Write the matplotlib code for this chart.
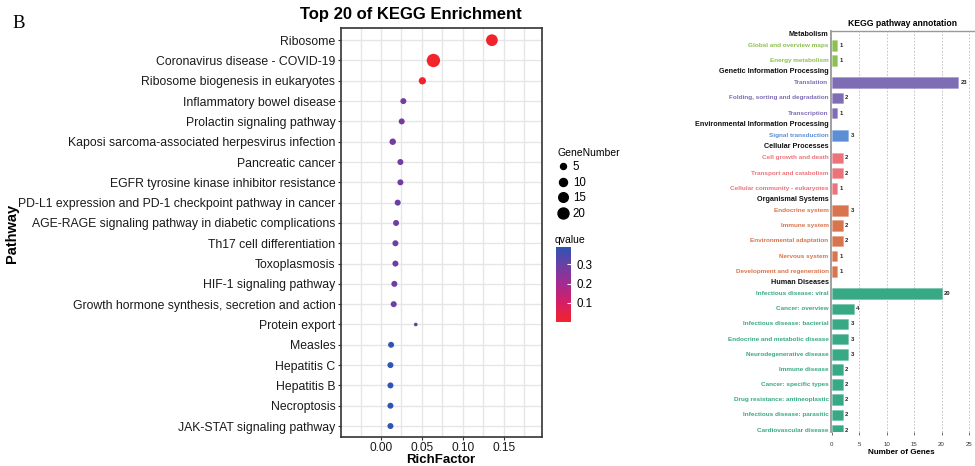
import matplotlib
matplotlib.use('Agg')
import matplotlib.pyplot as plt
import numpy as np
from matplotlib.colors import LinearSegmentedColormap, Normalize, to_rgba
from matplotlib.cm import ScalarMappable
from matplotlib.lines import Line2D

plt.rcParams['font.family'] = ['Liberation Sans', 'DejaVu Sans']

# ---------------- Left panel data ----------------
pathways = [
    "Ribosome",
    "Coronavirus disease - COVID-19",
    "Ribosome biogenesis in eukaryotes",
    "Inflammatory bowel disease",
    "Prolactin signaling pathway",
    "Kaposi sarcoma-associated herpesvirus infection",
    "Pancreatic cancer",
    "EGFR tyrosine kinase inhibitor resistance",
    "PD-L1 expression and PD-1 checkpoint pathway in cancer",
    "AGE-RAGE signaling pathway in diabetic complications",
    "Th17 cell differentiation",
    "Toxoplasmosis",
    "HIF-1 signaling pathway",
    "Growth hormone synthesis, secretion and action",
    "Protein export",
    "Measles",
    "Hepatitis C",
    "Hepatitis B",
    "Necroptosis",
    "JAK-STAT signaling pathway",
]
rich_factor = [0.1357, 0.0641, 0.0506, 0.0273, 0.0253, 0.0143, 0.0237, 0.0237,
               0.0204, 0.0184, 0.0176, 0.0176, 0.0163, 0.0155, 0.0425, 0.0123,
               0.0115, 0.0115, 0.0115, 0.0115]
gene_number = [23, 30, 8, 5, 5, 6, 5, 5, 5, 5, 5, 5, 5, 5, 1, 5, 5, 5, 5, 5]
qvalue = [0.00002, 0.002, 0.01, 0.28, 0.28, 0.28, 0.28, 0.28, 0.29, 0.29, 0.29,
          0.29, 0.29, 0.29, 0.32, 0.385, 0.39, 0.39, 0.39, 0.39]
size_legend = [5, 10, 15, 20]
x_ticks_left = [0.00, 0.05, 0.10, 0.15]
q_ticks = [0.1, 0.2, 0.3]

# ---------------- Right panel data ----------------
annot_groups = ["Metabolism", "Genetic Information Processing",
                "Environmental Information Processing", "Cellular Processes",
                "Organismal Systems", "Human Diseases"]
annot_group_colors = ["#8CC152", "#7E6DB5", "#5B8ED4", "#EC737B", "#D9754E", "#38A985"]
annot_terms = [
    "Global and overview maps", "Energy metabolism",
    "Translation", "Folding, sorting and degradation", "Transcription",
    "Signal transduction",
    "Cell growth and death", "Transport and catabolism", "Cellular community - eukaryotes",
    "Endocrine system", "Immune system", "Environmental adaptation", "Nervous system",
    "Development and regeneration",
    "Infectious disease: viral", "Cancer: overview", "Infectious disease: bacterial",
    "Endocrine and metabolic disease", "Neurodegenerative disease", "Immune disease",
    "Cancer: specific types", "Drug resistance: antineoplastic",
    "Infectious disease: parasitic", "Cardiovascular disease",
]
annot_counts = [1, 1, 23, 2, 1, 3, 2, 2, 1, 3, 2, 2, 1, 1, 20, 4, 3, 3, 3, 2, 2, 2, 2, 2]
annot_group_idx = [0, 0, 1, 1, 1, 2, 3, 3, 3, 4, 4, 4, 4, 4,
                   5, 5, 5, 5, 5, 5, 5, 5, 5, 5]
x_ticks_right = [0, 5, 10, 15, 20, 25]

W, H = 975, 466
fig = plt.figure(figsize=(W / 100, H / 100), dpi=100)


def fx(px):
    return px / W


def fy(py):
    return 1 - py / H


def size_pts2(n):
    d_px = np.sqrt(7.7 + 5.67 * np.asarray(n, dtype=float))
    return (d_px * 0.72) ** 2


cmap = LinearSegmentedColormap.from_list(
    "qv", [(0.0, "#F2242B"), (0.25, "#D61F63"), (0.5, "#A52A8F"),
           (0.75, "#6C3FA3"), (1.0, "#2F54B3")])
norm = Normalize(vmin=min(qvalue), vmax=max(qvalue))

# ---------------- Left panel ----------------
axL = fig.add_axes([fx(341), fy(437), fx(542) - fx(341), fy(28) - fy(437)])
ypos = np.arange(len(pathways))
axL.set_xlim(-0.049, 0.197)
axL.set_ylim(len(pathways) - 1 + 0.54, -0.6)
axL.set_xticks(x_ticks_left)
axL.set_xticks(np.arange(-0.025, 0.2, 0.05), minor=True)
axL.set_yticks(ypos)
axL.set_yticklabels(pathways, fontsize=8.85, color="#1a1a1a")
axL.set_xticklabels([f"{v:.2f}" for v in x_ticks_left], fontsize=8.6, color="#1a1a1a")
axL.grid(True, which="major", color="#E6E6E6", linewidth=1.0)
axL.grid(True, which="minor", axis="x", color="#E6E6E6", linewidth=1.0)
axL.set_axisbelow(True)
axL.tick_params(axis="both", which="major", length=2.5, width=0.8, color="#333333", pad=1.5)
axL.tick_params(axis="x", which="major", pad=0.8)
axL.tick_params(axis="x", which="minor", length=0)
for sp in axL.spines.values():
    sp.set_color("#333333")
    sp.set_linewidth(1.2)
axL.scatter(rich_factor, ypos, s=size_pts2(gene_number), c=qvalue, cmap=cmap,
            norm=norm, edgecolors="none", zorder=3)

fig.text(fx(441), 0.0, "RichFactor", fontsize=9.5, fontweight="bold",
         ha="center", va="bottom")
fig.text(fx(12), 0.5 * (fy(28) + fy(438)), "Pathway", rotation=90, fontsize=10.5,
         fontweight="bold", ha="center", va="center")
fig.text(fx(411), fy(14), "Top 20 of KEGG Enrichment", fontsize=12,
         fontweight="bold", ha="center", va="center")
fig.text(fx(12), fy(24), "B", fontsize=13.5, family="Liberation Serif",
         ha="left", va="center")

# size legend
handles = [Line2D([], [], linestyle="none", marker="o", color="black",
                  markersize=np.sqrt(size_pts2(v))) for v in size_legend]
leg = fig.legend(handles, [str(v) for v in size_legend], title="GeneNumber",
                 loc="upper left", bbox_to_anchor=(fx(551), fy(141)), frameon=False,
                 fontsize=8.3, title_fontsize=7.5, handlelength=0.8,
                 handletextpad=0.5, labelspacing=0.3, borderpad=0.1,
                 alignment="left")

# colorbar
cax = fig.add_axes([fx(556), fy(322), fx(571) - fx(556), fy(247) - fy(322)])
cb = fig.colorbar(ScalarMappable(norm=norm, cmap=cmap), cax=cax, ticks=q_ticks)
cb.outline.set_visible(False)
cb.ax.tick_params(length=3, width=0.8, color="white", direction="in", labelsize=8.3, pad=4)
cb.ax.set_yticklabels([f"{v:.1f}" for v in q_ticks])
fig.text(fx(555), fy(240), "qvalue", fontsize=7.5, ha="left", va="center")

# ---------------- Right panel ----------------
gap = 0.74
bar_y = []
header_y = []
pos = 0.0
prev = None
for gi in annot_group_idx:
    if gi != prev:
        if prev is None:
            header_y.append(0.0)
            pos = gap
        else:
            hdr = pos - 1 + gap
            header_y.append(hdr)
            pos = hdr + gap
        prev = gi
    bar_y.append(pos)
    pos += 1.0
bar_y = np.array(bar_y)

px_per_unit = (430 - 34) / bar_y[-1]
top_unit = (31 - 34) / px_per_unit
bot_unit = (432 - 34) / px_per_unit

axR = fig.add_axes([fx(831), fy(432), 1 - fx(831), fy(31) - fy(432)])
axR.set_xlim(-0.15, 26.1)
axR.set_ylim(bot_unit, top_unit)
colors = [annot_group_colors[g] for g in annot_group_idx]
bars = axR.barh(bar_y, annot_counts, height=0.7, color=colors,
                linewidth=0.5, zorder=3)
for b, c in zip(bars, colors):
    b.set_edgecolor(to_rgba(c, 0.35))
for y, v in zip(bar_y, annot_counts):
    axR.text(v + 0.45, y, str(v), fontsize=4.2, fontweight="bold", ha="left",
             va="center", color="#222222")
axR.set_yticks([])
axR.set_xticks(x_ticks_right)
axR.set_xticklabels([str(v) for v in x_ticks_right], fontsize=4.4, color="#333333")
axR.tick_params(axis="x", length=2, width=0.6, color="#555555", pad=5)
for xv in x_ticks_right[1:]:
    axR.axvline(xv, color="#BBBBBB", linewidth=0.6, linestyle=(0, (2, 2)), zorder=1)
axR.spines["right"].set_visible(False)
axR.spines["bottom"].set_visible(False)
axR.spines["left"].set_color("#999999")
axR.spines["left"].set_linewidth(1.3)
axR.spines["top"].set_color("#999999")
axR.spines["top"].set_linewidth(1.0)
for y, t, c in zip(bar_y, annot_terms, colors):
    axR.text(-0.6, y, t, fontsize=4.6, fontweight="bold", color=c, ha="right",
             va="center", clip_on=False)
for y, g in zip(header_y, annot_groups):
    axR.text(-0.6, y, g, fontsize=5.2, fontweight="bold", color="#111111",
             ha="right", va="center", clip_on=False)
fig.text(fx(901), fy(452), "Number of Genes", fontsize=5.8, fontweight="bold",
         ha="center", va="center")
fig.text(fx(903), fy(23), "KEGG pathway annotation", fontsize=6.2,
         fontweight="bold", ha="center", va="center")

fig.savefig("out.png", dpi=100)
